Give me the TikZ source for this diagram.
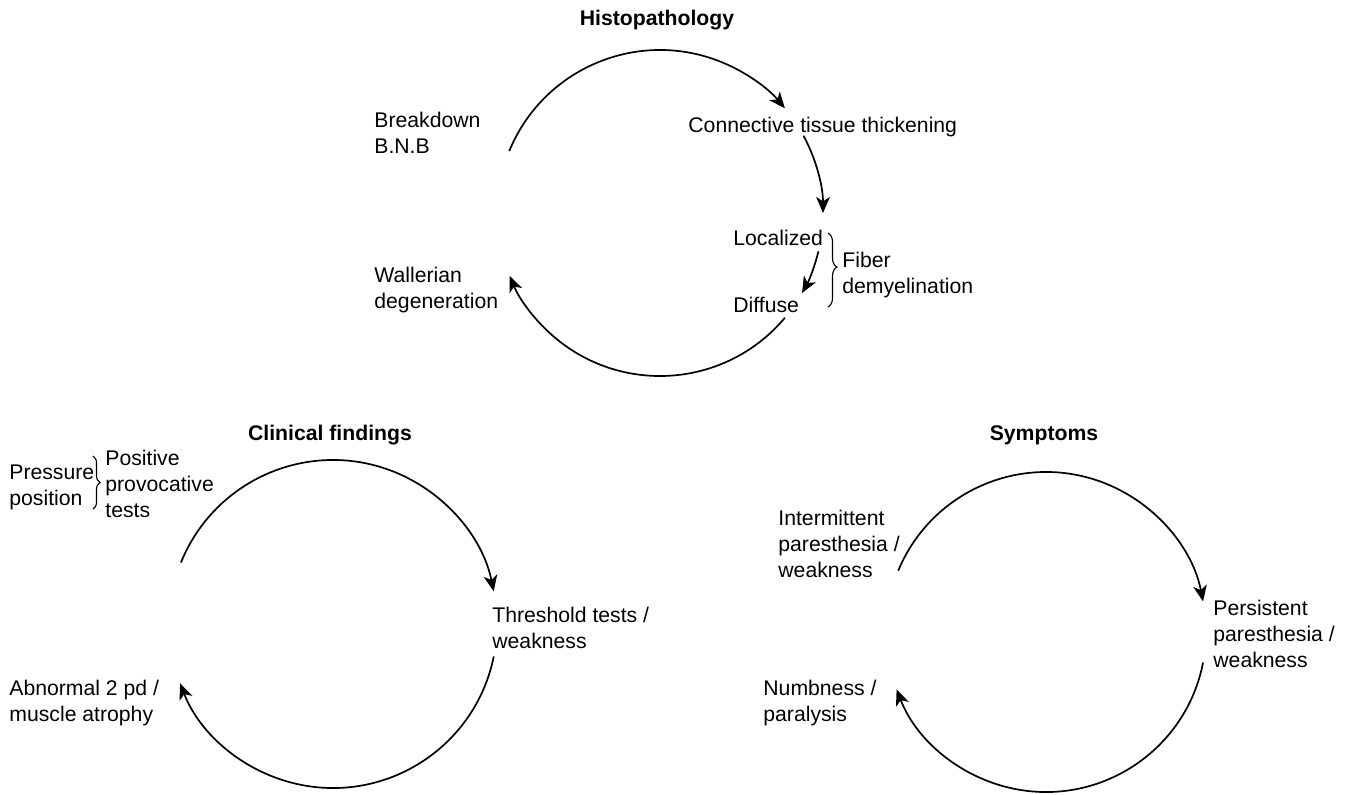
\documentclass[tikz,border=0pt]{standalone}
\usepackage{fontspec}
\setmainfont{Liberation Sans}
\usetikzlibrary{arrows.meta,decorations.pathreplacing}

\begin{document}
\begin{tikzpicture}[x=0.5pt, y=0.5pt,
	lbl/.style={inner sep=0pt, align=left, anchor=base west, font=\fontsize{10.6}{12.9}\selectfont},
	ttl/.style={inner sep=0pt, anchor=base, font=\fontsize{10.6}{12.9}\selectfont\bfseries},
	cyc/.style={line width=0.85pt, -{Stealth[length=8pt, width=6.8pt, inset=2.2pt]}},
	brc/.style={line width=0.55pt, decorate, decoration={brace, amplitude=#1}}]
	\useasboundingbox (0,0) rectangle (1349,-794);

	% Histopathology (multi-line labels sit on the baseline of their last line)
	\coordinate (hc) at (660,-213);
	\node[ttl] (histo) at (657,-25) {Histopathology};
	\node[lbl] (bnb) at (374,-153) {Breakdown\\B.N.B};
	\node[lbl] (conn) at (688,-132) {Connective tissue thickening};
	\node[lbl] (loc) at (733,-245) {Localized};
	\node[lbl] (diff) at (733,-312) {Diffuse};
	\node[lbl] (fiber) at (842,-293) {Fiber\\demyelination};
	\node[lbl] (waller) at (374,-308) {Wallerian\\degeneration};
	\coordinate (fb-top) at (828,-233);
	\coordinate (fb-bot) at (828,-307);
	\draw[brc=4.5pt, decoration={aspect=0.46}] (fb-top) -- (fb-bot);
	\draw[cyc] ([shift={(157.7:163)}]hc) arc[start angle=157.7, end angle=40, radius=163];
	\draw[cyc] ([shift={(28.3:163)}]hc) arc[start angle=28.3, end angle=0, radius=163];
	\draw[cyc] ([shift={(-13.6:163)}]hc) arc[start angle=-13.6, end angle=-29.4, radius=163];
	\draw[cyc] ([shift={(-40:163)}]hc) arc[start angle=-40, end angle=-157.3, radius=163];

	% Clinical findings
	\coordinate (cc) at (333,-624);
	\node[ttl] (clin) at (330,-440) {Clinical findings};
	\node[lbl] (press) at (9,-505) {Pressure\\position};
	\node[lbl] (prov) at (105,-517) {Positive\\provocative\\tests};
	\node[lbl] (thres) at (492,-648) {Threshold tests /\\weakness};
	\node[lbl] (abn) at (9,-721) {Abnormal 2 pd /\\muscle atrophy};
	\coordinate (pb-top) at (93,-456);
	\coordinate (pb-bot) at (93,-509);
	\draw[brc=3.5pt] (pb-top) -- (pb-bot);
	\draw[cyc] ([shift={(158:164)}]cc) arc[start angle=158, end angle=11.5, radius=164];
	\draw[cyc] ([shift={(-11.4:164)}]cc) arc[start angle=-11.4, end angle=-158.8, radius=164];

	% Symptoms
	\coordinate (sc) at (1046,-632);
	\node[ttl] (sympt) at (1044,-440) {Symptoms};
	\node[lbl] (inter) at (778,-577) {Intermittent\\paresthesia /\\weakness};
	\node[lbl] (pers) at (1213,-667) {Persistent\\paresthesia /\\weakness};
	\node[lbl] (numb) at (763,-721) {Numbness /\\paralysis};
	\draw[cyc] ([shift={(157.5:160)}]sc) arc[start angle=157.5, end angle=11, radius=160];
	\draw[cyc] ([shift={(-11:160)}]sc) arc[start angle=-11, end angle=-159, radius=160];
\end{tikzpicture}
\end{document}
